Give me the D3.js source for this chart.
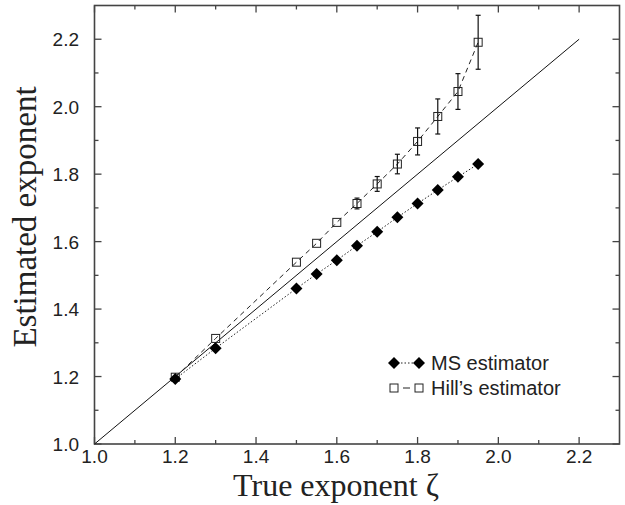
<!DOCTYPE html>
<html>
<head>
<meta charset="utf-8">
<script src="https://cdn.jsdelivr.net/npm/d3@7"></script>
<style>
  body { margin: 0; background: #fff; }
  svg text { fill: #222; }
</style>
</head>
<body>
<div id="chart"></div>
<script>
// data
var trueExp = [1.2, 1.3, 1.5, 1.55, 1.6, 1.65, 1.7, 1.75, 1.8, 1.85, 1.9, 1.95]
var msEst = [1.193, 1.284, 1.461, 1.504, 1.545, 1.588, 1.629, 1.672, 1.713, 1.753, 1.792, 1.830]
var hillEst = [1.198, 1.313, 1.539, 1.595, 1.657, 1.713, 1.771, 1.830, 1.897, 1.971, 2.045, 2.191]
var hillErr = [0.003, 0.006, 0.006, 0.007, 0.009, 0.016, 0.022, 0.029, 0.040, 0.052, 0.053, 0.080]
var majorTicks = [1.0, 1.2, 1.4, 1.6, 1.8, 2.0, 2.2]
var minorTicks = [1.1, 1.3, 1.5, 1.7, 1.9, 2.1]
var diagLine = [1.0, 2.2]

var W = 625, H = 505
var svg = d3.select('#chart')
  .append('svg')
  .attr('width', W)
  .attr('height', H)

var x = d3.scaleLinear().domain([1.0, 2.3]).range([94.5, 619.5])
var y = d3.scaleLinear().domain([1.0, 2.3]).range([444, 5.5])

var axisColor = '#444'

// frame
svg.append('rect')
  .attr('x', x(1.0)).attr('y', y(2.3))
  .attr('width', x(2.3) - x(1.0)).attr('height', y(1.0) - y(2.3))
  .attr('fill', 'none').attr('stroke', axisColor).attr('stroke-width', 1.6)

// inward ticks on all four sides
function ticks(vals, len) {
  vals.forEach(function (v) {
    svg.append('line').attr('x1', x(v)).attr('x2', x(v))
      .attr('y1', y(1.0)).attr('y2', y(1.0) - len)
      .attr('stroke', axisColor).attr('stroke-width', 1.3)
    svg.append('line').attr('x1', x(v)).attr('x2', x(v))
      .attr('y1', y(2.3)).attr('y2', y(2.3) + len)
      .attr('stroke', axisColor).attr('stroke-width', 1.3)
    svg.append('line').attr('y1', y(v)).attr('y2', y(v))
      .attr('x1', x(1.0)).attr('x2', x(1.0) + len)
      .attr('stroke', axisColor).attr('stroke-width', 1.3)
    svg.append('line').attr('y1', y(v)).attr('y2', y(v))
      .attr('x1', x(2.3)).attr('x2', x(2.3) - len)
      .attr('stroke', axisColor).attr('stroke-width', 1.3)
  })
}
ticks(majorTicks, 7)
ticks(minorTicks, 4)

// tick labels
svg.selectAll('.xlab').data(majorTicks).enter().append('text')
  .attr('x', function (d) { return x(d) })
  .attr('y', 463)
  .attr('text-anchor', 'middle')
  .attr('font-family', 'Liberation Sans, Arial, sans-serif')
  .attr('font-size', 19)
  .text(function (d) { return d.toFixed(1) })

svg.selectAll('.ylab').data(majorTicks).enter().append('text')
  .attr('x', 79)
  .attr('y', function (d) { return y(d) + 7 })
  .attr('text-anchor', 'end')
  .attr('font-family', 'Liberation Sans, Arial, sans-serif')
  .attr('font-size', 19)
  .text(function (d) { return d.toFixed(1) })

// axis titles
svg.append('text')
  .attr('x', 336).attr('y', 496)
  .attr('text-anchor', 'middle')
  .attr('font-family', 'Liberation Serif, Times New Roman, serif')
  .attr('font-size', 32)
  .text('True exponent ζ')

svg.append('text')
  .attr('transform', 'translate(36,217) rotate(-90)')
  .attr('text-anchor', 'middle')
  .attr('font-family', 'Liberation Serif, Times New Roman, serif')
  .attr('font-size', 33)
  .text('Estimated exponent')

// diagonal y = x
svg.append('line')
  .attr('x1', x(diagLine[0])).attr('y1', y(diagLine[0]))
  .attr('x2', x(diagLine[1])).attr('y2', y(diagLine[1]))
  .attr('stroke', '#111').attr('stroke-width', 1)

var line = d3.line()

// MS estimator
var msPts = trueExp.map(function (t, i) { return [x(t), y(msEst[i])] })
svg.append('path').attr('d', line(msPts))
  .attr('fill', 'none').attr('stroke', '#222').attr('stroke-width', 1)
  .attr('stroke-dasharray', '1.5,2')

// Hill estimator
var hillPts = trueExp.map(function (t, i) { return [x(t), y(hillEst[i])] })
svg.append('path').attr('d', line(hillPts))
  .attr('fill', 'none').attr('stroke', '#222').attr('stroke-width', 1)
  .attr('stroke-dasharray', '5,4')

// error bars
trueExp.forEach(function (t, i) {
  var cx = x(t), top = y(hillEst[i] + hillErr[i]), bot = y(hillEst[i] - hillErr[i])
  if (bot - top < 9) return
  svg.append('line').attr('x1', cx).attr('x2', cx).attr('y1', top).attr('y2', bot)
    .attr('stroke', '#111').attr('stroke-width', 1.2)
  ;[top, bot].forEach(function (yy) {
    svg.append('line').attr('x1', cx - 2.5).attr('x2', cx + 2.5).attr('y1', yy).attr('y2', yy)
      .attr('stroke', '#111').attr('stroke-width', 1.2)
  })
})

function drawDiamond(cx, cy) {
  svg.append('path').attr('d', 'M' + cx + ',' + (cy - 6) + 'L' + (cx + 6) + ',' + cy +
      'L' + cx + ',' + (cy + 6) + 'L' + (cx - 6) + ',' + cy + 'Z')
    .attr('fill', '#000')
}
function drawSquare(cx, cy) {
  svg.append('rect').attr('x', cx - 4).attr('y', cy - 4).attr('width', 8).attr('height', 8)
    .attr('fill', 'none').attr('stroke', '#222').attr('stroke-width', 1)
}

hillPts.forEach(function (p) { drawSquare(p[0], p[1]) })
msPts.forEach(function (p) { drawDiamond(p[0], p[1]) })

// legend
var legend = [
  { label: 'MS estimator', type: 'ms', y: 363 },
  { label: 'Hill\u2019s estimator', type: 'hill', y: 388 }
]
legend.forEach(function (d) {
  if (d.type === 'ms') {
    svg.append('line').attr('x1', 394).attr('x2', 419).attr('y1', d.y).attr('y2', d.y)
      .attr('stroke', '#222').attr('stroke-width', 1).attr('stroke-dasharray', '1.5,2')
    drawDiamond(394, d.y)
    drawDiamond(419, d.y)
  } else {
    svg.append('line').attr('x1', 403).attr('x2', 410).attr('y1', d.y).attr('y2', d.y)
      .attr('stroke', '#222').attr('stroke-width', 1)
    drawSquare(394, d.y)
    drawSquare(419, d.y)
  }
  svg.append('text').attr('x', 431).attr('y', d.y + 7)
    .attr('font-family', 'Liberation Sans, Arial, sans-serif')
    .attr('font-size', 20)
    .text(d.label)
})
</script>
</body>
</html>
